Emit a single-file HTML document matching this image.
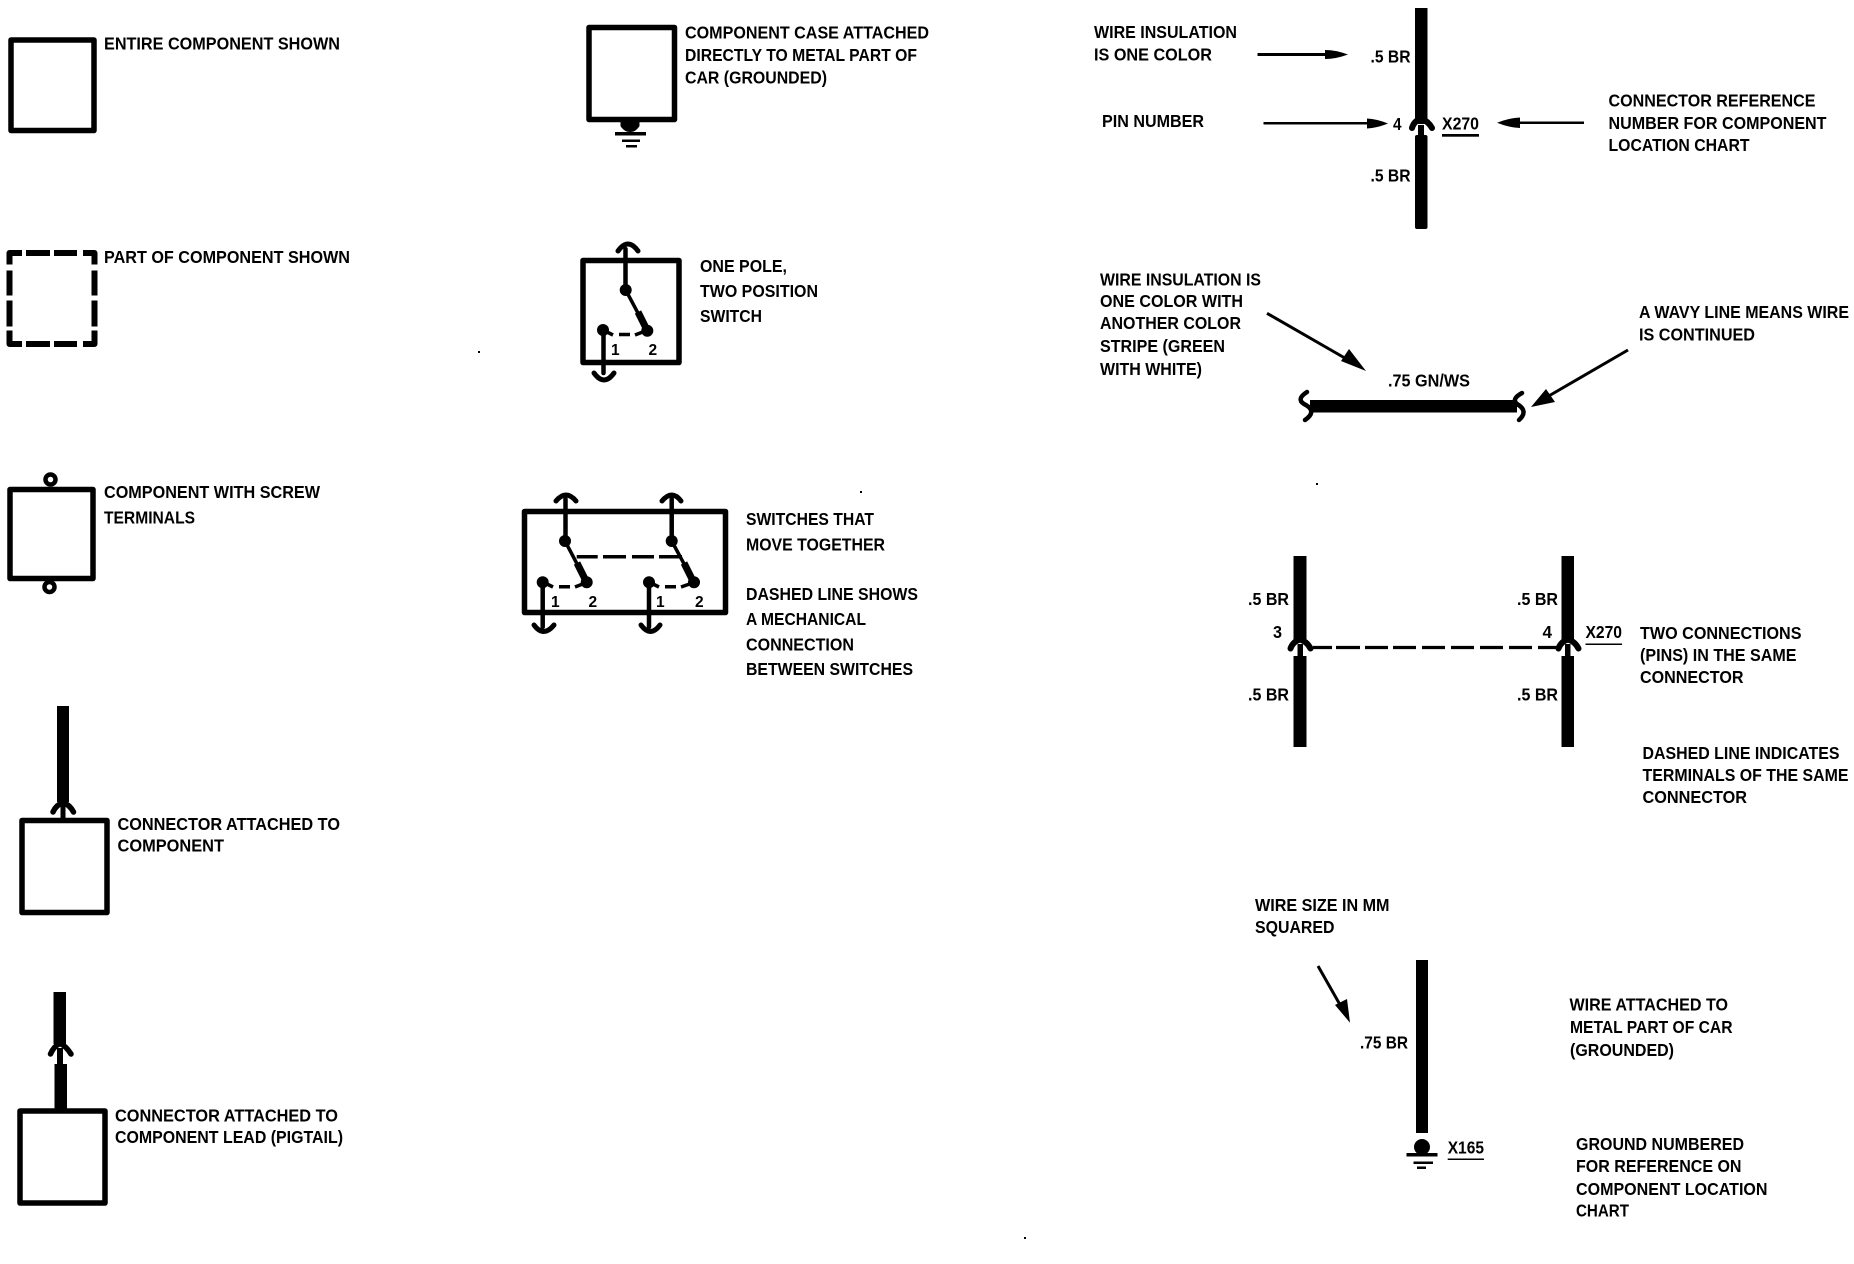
<!DOCTYPE html>
<html><head><meta charset="utf-8"><style>
html,body{margin:0;padding:0;background:#fff}
svg{display:block}
text{font-family:"Liberation Sans",sans-serif;font-size:17.5px;font-weight:700;fill:#000}
.n{font-size:15.500px}
</style></head><body>
<svg width="1854" height="1264" viewBox="0 0 1854 1264" xmlns="http://www.w3.org/2000/svg">
<rect width="1854" height="1264" fill="#fff"/>
<g fill="none" stroke="#000" stroke-width="5.5" stroke-linejoin="round" stroke-linecap="butt">
<!-- left column boxes -->
<rect x="11" y="40" width="83" height="90.5"/>
<path stroke-width="6" d="M9.500 264.500V253H22M26 253H50M54 253H77M83 253H94.500V264.500M9.500 270.500V295.500M9.500 300.500V326.500M94.500 270.500V295.500M94.500 300.500V326.500M9.500 330.500V344H22M26 344H50M54 344H77M83 344H94.500V330.500"/>
<rect x="10" y="489.500" width="83" height="89"/>
<circle cx="50.500" cy="479.500" r="5" stroke-width="4.500"/>
<circle cx="49.500" cy="587" r="5" stroke-width="4.500"/>
<rect x="22" y="820.500" width="85" height="92"/>
<rect x="20" y="1111" width="85" height="92"/>
<!-- grounded case -->
<rect x="589" y="27.500" width="85.500" height="92"/>
<!-- switch -->
<rect x="583" y="260.500" width="96" height="102"/>
<!-- double switch -->
<rect x="524.500" y="511.500" width="201" height="101"/>
</g>
<!-- left col connectors -->
<rect x="57" y="706" width="12" height="96"/>
<rect x="60.500" y="804" width="5" height="16"/>
<path d="M53 812Q56 805 63 802.500Q70 805 73.500 812" fill="none" stroke="#000" stroke-width="5.500" stroke-linecap="round"/>
<rect x="53.500" y="992" width="12.500" height="52"/>
<rect x="57" y="1048" width="6" height="18"/>
<rect x="54.500" y="1064" width="12.500" height="46"/>
<path d="M50.500 1054Q54 1046 60 1043.500Q66 1046 71 1054" fill="none" stroke="#000" stroke-width="5.500" stroke-linecap="round"/>
<!-- ground on case -->
<path d="M620.500 120H639.500L639.500 126Q636 132 630 132Q624 132 620.500 126Z"/>
<rect x="615" y="132" width="31" height="3.500"/>
<rect x="622" y="139.500" width="18" height="2.500"/>
<rect x="626" y="145" width="11" height="2.500"/>
<!-- single switch internals -->
<g fill="none" stroke="#000" stroke-linecap="round">
<path stroke-width="4.500" d="M625.500 249V290"/>
<path stroke-width="5" d="M618 251Q628 237 638 251"/>
<path stroke-width="3.500" d="M625.700 290L647.300 330.700"/>
<path stroke-width="7" stroke-linecap="butt" d="M638 312L646 328"/>
<path stroke-width="4.500" d="M603.500 331V373"/>
<path stroke-width="5" d="M594 373Q604 387 614 373"/>
<path stroke-width="3.500" stroke-linecap="butt" d="M606 331.500L613 335M619 334.500H630M635 335L644 331.500"/>
<!-- double switch -->
<path stroke-width="4.500" d="M565.500 499V541M671.700 499V541"/>
<path stroke-width="5" d="M556 501Q566 489 576 501M662 501Q672 489 681 501"/>
<path stroke-width="3.500" d="M565 541L586.700 582.300M671.700 541L694 582.300"/>
<path stroke-width="7" stroke-linecap="butt" d="M577 563L585 579M684 563L692 579"/>
<path stroke-width="4.500" d="M542.700 583V627M649 583V627"/>
<path stroke-width="5" d="M534 625Q543.500 638 554 625M641 625Q650.500 638 660 625"/>
<path stroke-width="3.500" stroke-linecap="butt" d="M546 583.500L553 587M559 586.700H570M575 587L584 583.500M652 583.500L659 587M665 586.700H676M681 587L691 583.500M576.700 556.700H597.700M603 556.700H626M632 556.700H654M659 556.700H682"/>
</g>
<g>
<circle cx="625.700" cy="290" r="6"/><circle cx="647.300" cy="330.700" r="6"/><circle cx="603" cy="330" r="6"/>
<circle cx="565" cy="541" r="6"/><circle cx="586.700" cy="582.300" r="6"/><circle cx="542.700" cy="582.300" r="6"/>
<circle cx="671.700" cy="541" r="6"/><circle cx="694" cy="582.300" r="6"/><circle cx="649" cy="582.300" r="6"/>
</g>
<!-- right top wire -->
<rect x="1415" y="8" width="12.500" height="116"/>
<rect x="1418" y="125" width="6" height="12"/>
<rect x="1415" y="135" width="12.500" height="94" rx="2"/>
<path d="M1412 128Q1414 121 1421 118.500Q1428 121 1432 128" fill="none" stroke="#000" stroke-width="6" stroke-linecap="round"/>
<!-- arrows -->
<rect x="1257.500" y="53" width="70" height="3"/><path d="M1348 54.500Q1336 50 1325 50V59Q1336 59 1348 54.500Z"/>
<rect x="1263.500" y="122" width="106" height="2.500"/><path d="M1388 123.500Q1377 119 1367 118.500V128.500Q1377 128 1388 123.500Z"/>
<rect x="1519" y="121.500" width="65" height="2.500"/><path d="M1497 122.700Q1509 118 1520 117.500V128Q1509 127.500 1497 122.700Z"/>
<g fill="none" stroke="#000" stroke-width="3"><path d="M1267 313.300L1350 361"/><path d="M1628 350L1547 397"/><path d="M1318 966L1343 1010"/></g>
<polygon points="1366,371 1341,361 1349,349"/>
<polygon points="1531,407 1546,389 1555,402"/>
<polygon points="1350,1022.700 1335,1005 1347,999"/>
<!-- wavy wire -->
<rect x="1310" y="400" width="207" height="12.500"/>
<path d="M1307 392Q1296 399 1304 404Q1318 411 1305 420" fill="none" stroke="#000" stroke-width="4.500" stroke-linecap="round"/>
<path d="M1522 393Q1511 399 1517 404Q1529 411 1519 420" fill="none" stroke="#000" stroke-width="4.500" stroke-linecap="round"/>
<!-- two connections -->
<rect x="1293.500" y="556" width="13" height="84"/>
<rect x="1297.500" y="644" width="5.500" height="14"/>
<rect x="1293.500" y="656" width="13" height="91"/>
<path d="M1290.500 648.500Q1293 641.500 1300 639.500Q1307 641.500 1310.500 648.500" fill="none" stroke="#000" stroke-width="6" stroke-linecap="round"/>
<rect x="1561.500" y="556" width="12.500" height="84"/>
<rect x="1565" y="644" width="5.500" height="14"/>
<rect x="1561.500" y="656" width="12.500" height="91"/>
<path d="M1558.500 648.500Q1561 641.500 1568 639.500Q1575 641.500 1578.500 648.500" fill="none" stroke="#000" stroke-width="6" stroke-linecap="round"/>
<path d="M1313 647.500H1332M1336 647.500H1360M1365 647.500H1388M1393 647.500H1416M1422 647.500H1445M1451 647.500H1474M1480 647.500H1503M1509 647.500H1532M1538 647.500H1560" fill="none" stroke="#000" stroke-width="3.200"/>
<!-- ground wire -->
<rect x="1416" y="960" width="12" height="173"/>
<circle cx="1422" cy="1147" r="8"/>
<rect x="1406.500" y="1153" width="31" height="3.500"/>
<rect x="1413.500" y="1161.500" width="19.500" height="2.500"/>
<rect x="1417" y="1166.500" width="9" height="2.500"/>
<!-- underlines -->
<rect x="1442" y="134" width="37" height="2.700"/>
<rect x="1585.500" y="643.500" width="36.500" height="1.500"/>
<rect x="1447.700" y="1158.500" width="36.300" height="1.500"/>
<!-- specks -->
<rect x="478" y="351" width="2" height="2"/><rect x="860" y="491" width="2" height="2"/><rect x="1316" y="483" width="2" height="2"/><rect x="1024" y="1237" width="2" height="2"/>
<!-- text -->
<text x="104" y="49.500" textLength="236" lengthAdjust="spacingAndGlyphs">ENTIRE COMPONENT SHOWN</text>
<text x="104" y="263" textLength="246" lengthAdjust="spacingAndGlyphs">PART OF COMPONENT SHOWN</text>
<text x="104" y="498" textLength="216" lengthAdjust="spacingAndGlyphs">COMPONENT WITH SCREW</text>
<text x="104" y="523.500" textLength="91" lengthAdjust="spacingAndGlyphs">TERMINALS</text>
<text x="117.500" y="830" textLength="222.500" lengthAdjust="spacingAndGlyphs">CONNECTOR ATTACHED TO</text>
<text x="117.500" y="851.500" textLength="106.500" lengthAdjust="spacingAndGlyphs">COMPONENT</text>
<text x="115" y="1121.500" textLength="223" lengthAdjust="spacingAndGlyphs">CONNECTOR ATTACHED TO</text>
<text x="115" y="1143" textLength="228" lengthAdjust="spacingAndGlyphs">COMPONENT LEAD (PIGTAIL)</text>
<text x="685" y="38.300" textLength="244" lengthAdjust="spacingAndGlyphs">COMPONENT CASE ATTACHED</text>
<text x="685" y="61" textLength="232" lengthAdjust="spacingAndGlyphs">DIRECTLY TO METAL PART OF</text>
<text x="685" y="83.300" textLength="142" lengthAdjust="spacingAndGlyphs">CAR (GROUNDED)</text>
<text x="700" y="272" textLength="87" lengthAdjust="spacingAndGlyphs">ONE POLE,</text>
<text x="700" y="297" textLength="118" lengthAdjust="spacingAndGlyphs">TWO POSITION</text>
<text x="700" y="322" textLength="62" lengthAdjust="spacingAndGlyphs">SWITCH</text>
<text class="n" x="611" y="355">1</text><text class="n" x="648.500" y="355">2</text>
<text class="n" x="551" y="607">1</text><text class="n" x="588.500" y="607">2</text>
<text class="n" x="656" y="607">1</text><text class="n" x="695" y="607">2</text>
<text x="746" y="525" textLength="128" lengthAdjust="spacingAndGlyphs">SWITCHES THAT</text>
<text x="746" y="550.500" textLength="139" lengthAdjust="spacingAndGlyphs">MOVE TOGETHER</text>
<text x="746" y="600" textLength="172" lengthAdjust="spacingAndGlyphs">DASHED LINE SHOWS</text>
<text x="746" y="625" textLength="120" lengthAdjust="spacingAndGlyphs">A MECHANICAL</text>
<text x="746" y="650.500" textLength="108" lengthAdjust="spacingAndGlyphs">CONNECTION</text>
<text x="746" y="675" textLength="167" lengthAdjust="spacingAndGlyphs">BETWEEN SWITCHES</text>
<text x="1094" y="38" textLength="143" lengthAdjust="spacingAndGlyphs">WIRE INSULATION</text>
<text x="1094" y="60.500" textLength="118" lengthAdjust="spacingAndGlyphs">IS ONE COLOR</text>
<text x="1102" y="127" textLength="102" lengthAdjust="spacingAndGlyphs">PIN NUMBER</text>
<text x="1370.500" y="62.500" textLength="40" lengthAdjust="spacingAndGlyphs">.5 BR</text>
<text x="1370.500" y="181.500" textLength="40" lengthAdjust="spacingAndGlyphs">.5 BR</text>
<text x="1393" y="130" textLength="8.500" lengthAdjust="spacingAndGlyphs">4</text>
<text x="1442" y="129.500" textLength="37" lengthAdjust="spacingAndGlyphs">X270</text>
<text x="1608.500" y="106.500" textLength="207" lengthAdjust="spacingAndGlyphs">CONNECTOR REFERENCE</text>
<text x="1608.500" y="129" textLength="218" lengthAdjust="spacingAndGlyphs">NUMBER FOR COMPONENT</text>
<text x="1608.500" y="151" textLength="141" lengthAdjust="spacingAndGlyphs">LOCATION CHART</text>
<text x="1100" y="285.500" textLength="161" lengthAdjust="spacingAndGlyphs">WIRE INSULATION IS</text>
<text x="1100" y="307" textLength="143" lengthAdjust="spacingAndGlyphs">ONE COLOR WITH</text>
<text x="1100" y="329" textLength="141" lengthAdjust="spacingAndGlyphs">ANOTHER COLOR</text>
<text x="1100" y="352" textLength="125" lengthAdjust="spacingAndGlyphs">STRIPE (GREEN</text>
<text x="1100" y="375" textLength="102" lengthAdjust="spacingAndGlyphs">WITH WHITE)</text>
<text x="1388" y="386.500" textLength="82" lengthAdjust="spacingAndGlyphs">.75 GN/WS</text>
<text x="1639" y="318" textLength="210" lengthAdjust="spacingAndGlyphs">A WAVY LINE MEANS WIRE</text>
<text x="1639" y="340.500" textLength="116" lengthAdjust="spacingAndGlyphs">IS CONTINUED</text>
<text x="1248" y="605" textLength="41" lengthAdjust="spacingAndGlyphs">.5 BR</text>
<text x="1248" y="700.500" textLength="41" lengthAdjust="spacingAndGlyphs">.5 BR</text>
<text x="1517" y="605" textLength="41" lengthAdjust="spacingAndGlyphs">.5 BR</text>
<text x="1517" y="700.500" textLength="41" lengthAdjust="spacingAndGlyphs">.5 BR</text>
<text x="1273" y="638" textLength="9" lengthAdjust="spacingAndGlyphs">3</text>
<text x="1542.500" y="638" textLength="9.500" lengthAdjust="spacingAndGlyphs">4</text>
<text x="1585.500" y="638" textLength="36.500" lengthAdjust="spacingAndGlyphs">X270</text>
<text x="1640" y="639" textLength="161.500" lengthAdjust="spacingAndGlyphs">TWO CONNECTIONS</text>
<text x="1640" y="661" textLength="156.500" lengthAdjust="spacingAndGlyphs">(PINS) IN THE SAME</text>
<text x="1640" y="683" textLength="103.500" lengthAdjust="spacingAndGlyphs">CONNECTOR</text>
<text x="1642.500" y="759" textLength="197" lengthAdjust="spacingAndGlyphs">DASHED LINE INDICATES</text>
<text x="1642.500" y="781" textLength="206" lengthAdjust="spacingAndGlyphs">TERMINALS OF THE SAME</text>
<text x="1642.500" y="803" textLength="104.500" lengthAdjust="spacingAndGlyphs">CONNECTOR</text>
<text x="1255" y="911" textLength="134.500" lengthAdjust="spacingAndGlyphs">WIRE SIZE IN MM</text>
<text x="1255" y="933" textLength="79.500" lengthAdjust="spacingAndGlyphs">SQUARED</text>
<text x="1360" y="1048.500" textLength="48" lengthAdjust="spacingAndGlyphs">.75 BR</text>
<text x="1447.700" y="1153.500" textLength="36.300" lengthAdjust="spacingAndGlyphs">X165</text>
<text x="1569.500" y="1010.500" textLength="158.500" lengthAdjust="spacingAndGlyphs">WIRE ATTACHED TO</text>
<text x="1570" y="1033" textLength="162.500" lengthAdjust="spacingAndGlyphs">METAL PART OF CAR</text>
<text x="1570" y="1056" textLength="104" lengthAdjust="spacingAndGlyphs">(GROUNDED)</text>
<text x="1576" y="1150" textLength="168" lengthAdjust="spacingAndGlyphs">GROUND NUMBERED</text>
<text x="1576" y="1172" textLength="165.500" lengthAdjust="spacingAndGlyphs">FOR REFERENCE ON</text>
<text x="1576" y="1195" textLength="191.500" lengthAdjust="spacingAndGlyphs">COMPONENT LOCATION</text>
<text x="1576" y="1216.500" textLength="53" lengthAdjust="spacingAndGlyphs">CHART</text>
</svg>
</body></html>
